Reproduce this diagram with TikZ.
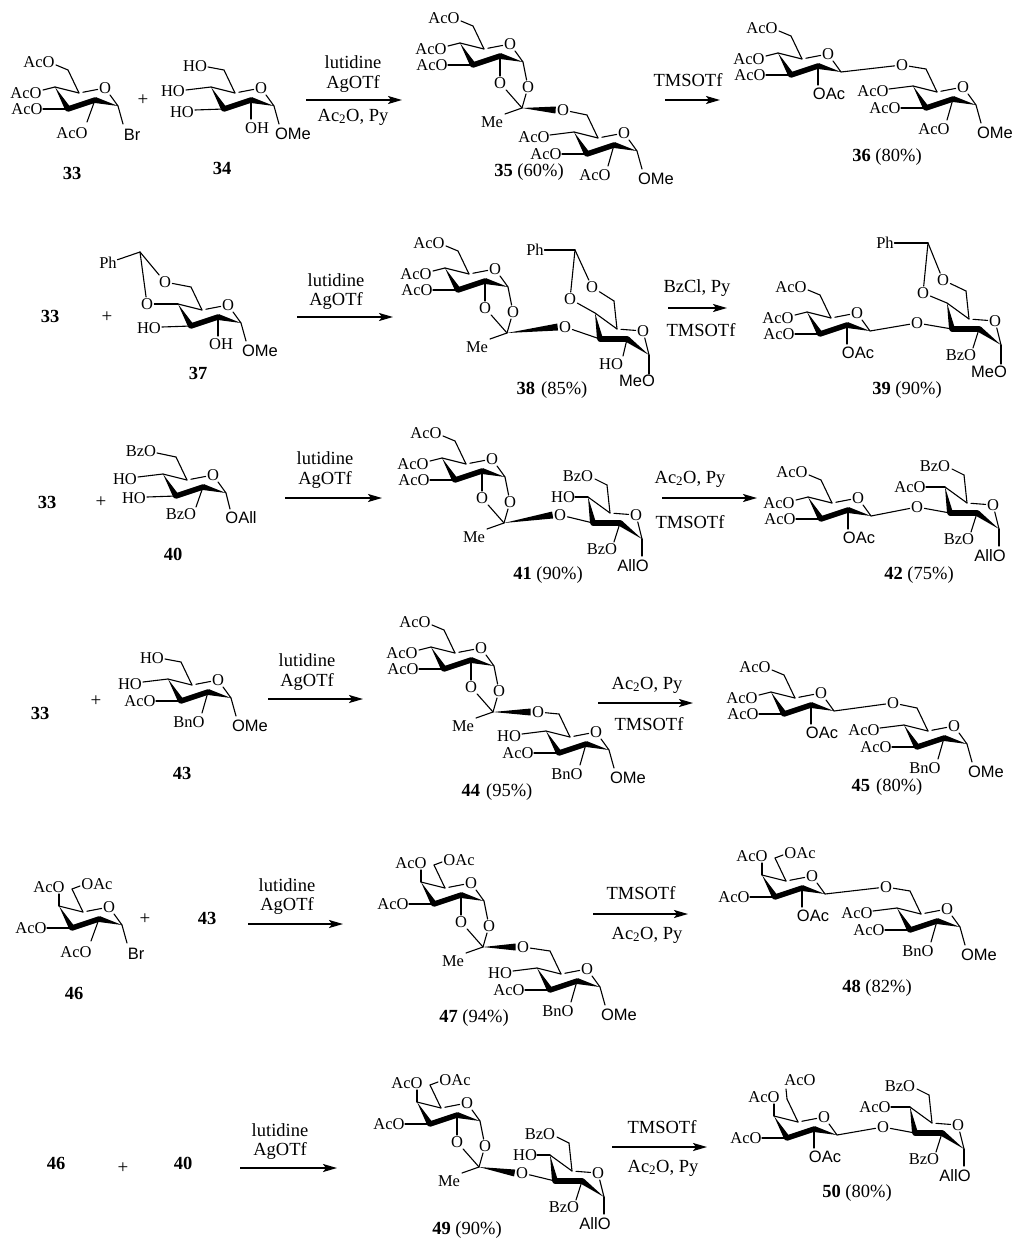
\documentclass[tikz,border=0pt]{standalone}
\usepackage{fontspec}
\setmainfont{Liberation Serif}
\newfontfamily\sansf{Liberation Sans}
\usetikzlibrary{calc,arrows.meta}
\newcounter{lbl}
\tikzset{
 bond/.style={line width=1.1pt, line cap=round},
 boldb/.style={line width=5.4pt, line cap=round},
 lab/.style={font=\fontsize{16.5}{17}\selectfont, inner sep=0.5pt},
 slab/.style={font=\sansf\fontsize{16.5}{17}\selectfont, inner sep=0.5pt},
 atom/.style={font=\fontsize{16.5}{17}\selectfont, inner sep=1.2pt},
 cpd/.style={font=\fontsize{18.5}{20}\selectfont, inner sep=0pt},
 rgt/.style={font=\fontsize{18.5}{20}\selectfont, inner sep=0pt},
 plus/.style={font=\fontsize{19}{20}\selectfont, inner sep=0pt},
 rxn/.style={line width=1.8pt, -{Stealth[length=14pt,width=8pt,inset=3pt]}},
}
\newcommand\wdg[3][3]{\fill ($(#3)!#1pt!90:(#2)$) -- (#2) -- ($(#3)!#1pt!-90:(#2)$) -- cycle;}
\newcommand\sbst[5]{\stepcounter{lbl}\draw[bond] (#1) -- ($(#1)+#2$); \node[#5] (L\arabic{lbl}) at ($(#1)+#3$) {#4};}
\newcommand\ringA[3]{%
 \begin{scope}[shift={(#2,#3)}]
 \coordinate (#1-4) at (0,0);
 \coordinate (#1-5) at (24,6);
 \node[atom] (#1-O) at (50,1) {O};
 \coordinate (#1-1) at (63,19);
 \coordinate (#1-2) at (40,13);
 \coordinate (#1-3) at (13,22);
 \coordinate (#1-6) at (13,-17);
 \end{scope}
 \draw[bond] (#1-4) -- (#1-5);
 \draw[bond, shorten <=4pt] (#1-5) -- (#1-O);
 \draw[bond] (#1-O) -- (#1-1);
 \draw[bond] (#1-5) -- (#1-6);
 \wdg{#1-4}{#1-3}
 \draw[boldb] (#1-3) -- (#1-2);
 \wdg{#1-1}{#1-2}
}
\newcommand\ringB[3]{%
 \begin{scope}[shift={(#2,#3)}]
 \coordinate (#1-4) at (0,0);
 \coordinate (#1-5) at (22,16);
 \node[atom] (#1-O) at (48,18) {O};
 \coordinate (#1-1) at (54,42);
 \coordinate (#1-2) at (32,26);
 \coordinate (#1-3) at (5,26);
 \coordinate (#1-6) at (19,-12);
 \end{scope}
 \draw[bond] (#1-4) -- (#1-5);
 \draw[bond, shorten <=4pt] (#1-5) -- (#1-O);
 \draw[bond] (#1-O) -- (#1-1);
 \draw[bond] (#1-5) -- (#1-6);
 \wdg{#1-4}{#1-3}
 \draw[boldb] (#1-3) -- (#1-2);
 \wdg{#1-1}{#1-2}
}
\newcommand\orthoe[3]{%
 \node[atom] (#2-o2) at ($(#1-2)+(0,27)$) {O};
 \node[atom] (#2-o1) at ($(#1-1)+(5,25)$) {O};
 \coordinate (#2-c) at ($(#1-2)+(22,52)$);
 \draw[bond] (#1-2) -- (#2-o2);
 \draw[bond] (#1-1) -- (#2-o1);
 \draw[bond] (#2-o2) -- (#2-c);
 \draw[bond] (#2-o1) -- (#2-c);
 \sbst{#2-c}{(-17,6)}{(-30,14)}{Me}{lab}
 \wdg[3.5]{#2-c}{#3.west}
}
\begin{document}
\begin{tikzpicture}[x=1pt,y=-1pt]
\useasboundingbox (0,0) rectangle (1017,1239);
% ===== Row 1 =====
\ringA{a}{55}{87}
\sbst{a-6}{(-12,-5)}{(-29,-8)}{AcO}{lab}
\sbst{a-4}{(-12,3)}{(-29,6)}{AcO}{lab}
\sbst{a-3}{(-25,0)}{(-41,0)}{AcO}{lab}
\sbst{a-2}{(-8,22)}{(-23,33)}{AcO}{lab}
\sbst{a-1}{(5,18)}{(14,29)}{Br}{slab}
\node[cpd] (n33a) at (72,173) {\textbf{33}};
\node[plus] (p1) at (143,100) {+};
\ringA{b}{211}{87}
\sbst{b-6}{(-16,-3)}{(-29,-4)}{HO}{lab}
\sbst{b-4}{(-25,3)}{(-38,4)}{HO}{lab}
\sbst{b-3}{(-29,1)}{(-42,3)}{HO}{lab}
\sbst{b-2}{(0,19)}{(6,28)}{OH}{lab}
\sbst{b-1}{(5,18)}{(19,28)}{OMe}{slab}
\node[cpd] (n34) at (222,168) {\textbf{34}};
\coordinate (r1s) at (306,100); \coordinate (r1e) at (402,100);
\draw[rxn] (r1s) -- (r1e);
\node[rgt] (t1a) at (353,62) {lutidine};
\node[rgt] (t1b) at (353,84) {AgOTf};
\node[rgt] (t1c) at (353,117) {Ac\textsubscript{2}O, Py};
% 35
\ringA{c}{460}{43}
\sbst{c-6}{(-12,-5)}{(-29,-8)}{AcO}{lab}
\sbst{c-4}{(-12,3)}{(-29,6)}{AcO}{lab}
\sbst{c-3}{(-25,0)}{(-41,0)}{AcO}{lab}
\node[atom] (c-x) at (563,110) {O};
\orthoe{c}{oc}{c-x}
\ringA{d}{574}{132}
\draw[bond] (c-x) -- (d-6);
\sbst{d-4}{(-24,3)}{(-40,5)}{AcO}{lab}
\sbst{d-3}{(-25,0)}{(-41,0)}{AcO}{lab}
\sbst{d-2}{(-6,21)}{(-19,30)}{AcO}{lab}
\sbst{d-1}{(5,18)}{(19,28)}{OMe}{slab}
\node[cpd] (n35) at (529,172) {\textbf{35} (60\%)};
\coordinate (r2s) at (665,100); \coordinate (r2e) at (720,100);
\draw[rxn] (r2s) -- (r2e);
\node[rgt] (t2a) at (688,80) {TMSOTf};
% 36
\ringA{e}{778}{53}
\sbst{e-6}{(-12,-5)}{(-29,-8)}{AcO}{lab}
\sbst{e-4}{(-12,3)}{(-29,6)}{AcO}{lab}
\sbst{e-3}{(-25,0)}{(-41,0)}{AcO}{lab}
\sbst{e-2}{(0,19)}{(11,28)}{OAc}{slab}
\node[atom] (e-x) at (902,65) {O};
\draw[bond] (e-1) -- (e-x);
\ringA{f}{913}{86}
\draw[bond] (e-x) -- (f-6);
\sbst{f-4}{(-24,3)}{(-40,5)}{AcO}{lab}
\sbst{f-3}{(-25,0)}{(-41,0)}{AcO}{lab}
\sbst{f-2}{(-6,21)}{(-19,30)}{AcO}{lab}
\sbst{f-1}{(5,18)}{(19,28)}{OMe}{slab}
\node[cpd] (n36) at (887,157) {\textbf{36} (80\%)};
% ===== Row 2 =====
\node[cpd] (n33b) at (50,316) {\textbf{33}};
\node[plus] (p2) at (107,317) {+};
\ringA{g}{178}{304}
\node[atom] (g-o4) at (147,304) {O};
\node[atom] (g-o6) at (165,282) {O};
\coordinate (g-ac) at (140,252);
\node[lab] (g-ph) at (108,263) {Ph};
\draw[bond] (g-4) -- (g-o4);
\draw[bond] (g-o4) -- (g-ac);
\draw[bond] (g-ac) -- (g-o6);
\draw[bond] (g-o6) -- (g-6);
\draw[bond] (g-ac) -- (g-ph);
\sbst{g-3}{(-29,1)}{(-42,2)}{HO}{lab}
\sbst{g-2}{(0,19)}{(3,27)}{OH}{lab}
\sbst{g-1}{(5,18)}{(19,28)}{OMe}{slab}
\node[cpd] (n37) at (198,373) {\textbf{37}};
\coordinate (r3s) at (297,317); \coordinate (r3e) at (393,317);
\draw[rxn] (r3s) -- (r3e);
\node[rgt] (t3a) at (336,280) {lutidine};
\node[rgt] (t3b) at (336,301) {AgOTf};
% 38
\ringA{h}{445}{268}
\sbst{h-6}{(-12,-5)}{(-29,-8)}{AcO}{lab}
\sbst{h-4}{(-12,3)}{(-29,6)}{AcO}{lab}
\sbst{h-3}{(-25,0)}{(-41,0)}{AcO}{lab}
\node[atom] (h-x) at (565,327) {O};
\orthoe{h}{oh}{h-x}
\ringB{i}{595}{313}
\draw[bond] (h-x) -- (i-3);
\node[atom] (i-o4) at (570,299) {O};
\node[atom] (i-o6) at (592,287) {O};
\coordinate (i-ac) at (575,250);
\node[lab] (i-ph) at (535,250) {Ph};
\draw[bond] (i-4) -- (i-o4);
\draw[bond] (i-o4) -- (i-ac);
\draw[bond] (i-ac) -- (i-o6);
\draw[bond] (i-o6) -- (i-6);
\draw[bond] (i-ac) -- (i-ph);
\sbst{i-2}{(-4,17)}{(-16,25)}{HO}{lab}
\sbst{i-1}{(0,19)}{(-12,26)}{MeO}{slab}
\node[cpd] (n38) at (552,390) {\textbf{38}\hspace{6pt}(85\%)};
\coordinate (r4s) at (668,308); \coordinate (r4e) at (727,308);
\draw[rxn] (r4s) -- (r4e);
\node[rgt] (t4a) at (697,288) {BzCl, Py};
\node[rgt] (t4b) at (701,330) {TMSOTf};
% 39
\ringA{j}{807}{312}
\sbst{j-6}{(-12,-5)}{(-29,-8)}{AcO}{lab}
\sbst{j-4}{(-12,3)}{(-29,6)}{AcO}{lab}
\sbst{j-3}{(-25,0)}{(-41,0)}{AcO}{lab}
\sbst{j-2}{(0,19)}{(11,28)}{OAc}{slab}
\node[atom] (j-x) at (917,323) {O};
\draw[bond] (j-1) -- (j-x);
\ringB{k}{947}{303}
\draw[bond] (j-x) -- (k-3);
\node[atom] (k-o4) at (923,293) {O};
\node[atom] (k-o6) at (943,280) {O};
\coordinate (k-ac) at (928,243);
\node[lab] (k-ph) at (885,243) {Ph};
\draw[bond] (k-4) -- (k-o4);
\draw[bond] (k-o4) -- (k-ac);
\draw[bond] (k-ac) -- (k-o6);
\draw[bond] (k-o6) -- (k-6);
\draw[bond] (k-ac) -- (k-ph);
\sbst{k-2}{(-6,19)}{(-18,26)}{BzO}{lab}
\sbst{k-1}{(0,19)}{(-12,27)}{MeO}{slab}
\node[cpd] (n39) at (907,390) {\textbf{39} (90\%)};
% ===== Row 3 =====
\node[cpd] (n33c) at (47,502) {\textbf{33}};
\node[plus] (p3) at (101,502) {+};
\ringA{l}{163}{474}
\sbst{l-6}{(-19,-4)}{(-35,-6)}{BzO}{lab}
\sbst{l-4}{(-25,3)}{(-38,5)}{HO}{lab}
\sbst{l-3}{(-29,1)}{(-42,2)}{HO}{lab}
\sbst{l-2}{(-7,20)}{(-22,27)}{BzO}{lab}
\sbst{l-1}{(4,16)}{(15,25)}{OAll}{slab}
\node[cpd] (n40a) at (173,554) {\textbf{40}};
\coordinate (r5s) at (285,498); \coordinate (r5e) at (382,498);
\draw[rxn] (r5s) -- (r5e);
\node[rgt] (t5a) at (325,458) {lutidine};
\node[rgt] (t5b) at (325,480) {AgOTf};
% 41
\ringA{m}{442}{458}
\sbst{m-6}{(-12,-5)}{(-29,-8)}{AcO}{lab}
\sbst{m-4}{(-12,3)}{(-29,6)}{AcO}{lab}
\sbst{m-3}{(-25,0)}{(-41,0)}{AcO}{lab}
\node[atom] (m-x) at (560,515) {O};
\orthoe{m}{om}{m-x}
\ringB{n}{588}{497}
\draw[bond] (m-x) -- (n-3);
\sbst{n-6}{(-12,-6)}{(-29,-9)}{BzO}{lab}
\sbst{n-4}{(-13,0)}{(-25,0)}{HO}{lab}
\sbst{n-2}{(-6,19)}{(-18,26)}{BzO}{lab}
\sbst{n-1}{(0,17)}{(-9,27)}{AllO}{slab}
\node[cpd] (n41) at (548,575) {\textbf{41} (90\%)};
\coordinate (r6s) at (662,498); \coordinate (r6e) at (757,498);
\draw[rxn] (r6s) -- (r6e);
\node[rgt] (t6a) at (690,479) {Ac\textsubscript{2}O, Py};
\node[rgt] (t6b) at (690,522) {TMSOTf};
% 42
\ringA{o}{808}{497}
\sbst{o-6}{(-12,-5)}{(-29,-8)}{AcO}{lab}
\sbst{o-4}{(-12,3)}{(-29,6)}{AcO}{lab}
\sbst{o-3}{(-25,0)}{(-41,0)}{AcO}{lab}
\sbst{o-2}{(0,19)}{(11,28)}{OAc}{slab}
\node[atom] (o-x) at (917,507) {O};
\draw[bond] (o-1) -- (o-x);
\ringB{p}{945}{487}
\draw[bond] (o-x) -- (p-3);
\sbst{p-6}{(-12,-6)}{(-29,-9)}{BzO}{lab}
\sbst{p-4}{(-19,0)}{(-35,0)}{AcO}{lab}
\sbst{p-2}{(-6,19)}{(-18,26)}{BzO}{lab}
\sbst{p-1}{(0,17)}{(-9,27)}{AllO}{slab}
\node[cpd] (n42) at (919,575) {\textbf{42} (75\%)};
% ===== Row 4 =====
\node[cpd] (n33d) at (40,713) {\textbf{33}};
\node[plus] (p4) at (96,701) {+};
\ringA{q}{168}{679}
\sbst{q-6}{(-16,-3)}{(-29,-4)}{HO}{lab}
\sbst{q-4}{(-25,3)}{(-38,5)}{HO}{lab}
\sbst{q-3}{(-25,0)}{(-41,0)}{AcO}{lab}
\sbst{q-2}{(-6,21)}{(-19,30)}{BnO}{lab}
\sbst{q-1}{(5,18)}{(19,28)}{OMe}{slab}
\node[cpd] (n43a) at (182,773) {\textbf{43}};
\coordinate (r7s) at (268,699); \coordinate (r7e) at (363,699);
\draw[rxn] (r7s) -- (r7e);
\node[rgt] (t7a) at (307,660) {lutidine};
\node[rgt] (t7b) at (307,682) {AgOTf};
% 44
\ringA{r}{431}{647}
\sbst{r-6}{(-12,-5)}{(-29,-8)}{AcO}{lab}
\sbst{r-4}{(-12,3)}{(-29,6)}{AcO}{lab}
\sbst{r-3}{(-25,0)}{(-41,0)}{AcO}{lab}
\node[atom] (r-x) at (538,712) {O};
\orthoe{r}{or}{r-x}
\ringA{s}{546}{731}
\draw[bond] (r-x) -- (s-6);
\sbst{s-4}{(-24,3)}{(-37,5)}{HO}{lab}
\sbst{s-3}{(-25,0)}{(-41,0)}{AcO}{lab}
\sbst{s-2}{(-6,21)}{(-19,30)}{BnO}{lab}
\sbst{s-1}{(5,18)}{(19,28)}{OMe}{slab}
\node[cpd] (n44) at (497,792) {\textbf{44}\hspace{6pt}(95\%)};
\coordinate (r8s) at (598,703); \coordinate (r8e) at (693,703);
\draw[rxn] (r8s) -- (r8e);
\node[rgt] (t8a) at (647,685) {Ac\textsubscript{2}O, Py};
\node[rgt] (t8b) at (649,724) {TMSOTf};
% 45
\ringA{t}{771}{692}
\sbst{t-6}{(-12,-5)}{(-29,-8)}{AcO}{lab}
\sbst{t-4}{(-12,3)}{(-29,6)}{AcO}{lab}
\sbst{t-3}{(-25,0)}{(-41,0)}{AcO}{lab}
\sbst{t-2}{(0,19)}{(11,28)}{OAc}{slab}
\node[atom] (t-x) at (893,703) {O};
\draw[bond] (t-1) -- (t-x);
\ringA{u}{904}{725}
\draw[bond] (t-x) -- (u-6);
\sbst{u-4}{(-24,3)}{(-40,5)}{AcO}{lab}
\sbst{u-3}{(-25,0)}{(-41,0)}{AcO}{lab}
\sbst{u-2}{(-6,21)}{(-19,30)}{BnO}{lab}
\sbst{u-1}{(5,18)}{(19,28)}{OMe}{slab}
\node[cpd] (n45) at (887,787) {\textbf{45}\hspace{6pt}(80\%)};
% ===== Row 5 =====
\ringA{v}{59}{906}
\sbst{v-4}{(0,-12)}{(-10,-19)}{AcO}{lab}
\sbst{v-6}{(8,-3)}{(25,-5)}{OAc}{lab}
\sbst{v-3}{(-25,0)}{(-41,0)}{AcO}{lab}
\sbst{v-2}{(-8,22)}{(-23,33)}{AcO}{lab}
\sbst{v-1}{(5,18)}{(14,29)}{Br}{slab}
\node[cpd] (n46a) at (74,993) {\textbf{46}};
\node[plus] (p5) at (145,919) {+};
\node[cpd] (n43b) at (207,918) {\textbf{43}};
\coordinate (r9s) at (248,924); \coordinate (r9e) at (343,924);
\draw[rxn] (r9s) -- (r9e);
\node[rgt] (t9a) at (287,885) {lutidine};
\node[rgt] (t9b) at (287,906) {AgOTf};
% 47
\ringA{w}{421}{882}
\sbst{w-4}{(0,-12)}{(-10,-19)}{AcO}{lab}
\sbst{w-6}{(8,-3)}{(25,-5)}{OAc}{lab}
\sbst{w-3}{(-25,0)}{(-41,0)}{AcO}{lab}
\node[atom] (w-x) at (523,947) {O};
\orthoe{w}{ow}{w-x}
\ringA{x}{537}{968}
\draw[bond] (w-x) -- (x-6);
\sbst{x-4}{(-24,3)}{(-37,5)}{HO}{lab}
\sbst{x-3}{(-25,0)}{(-41,0)}{AcO}{lab}
\sbst{x-2}{(-6,21)}{(-19,30)}{BnO}{lab}
\sbst{x-1}{(5,18)}{(19,28)}{OMe}{slab}
\node[cpd] (n47) at (474,1018) {\textbf{47} (94\%)};
\coordinate (r10s) at (593,914); \coordinate (r10e) at (688,914);
\draw[rxn] (r10s) -- (r10e);
\node[rgt] (t10a) at (641,893) {TMSOTf};
\node[rgt] (t10b) at (647,935) {Ac\textsubscript{2}O, Py};
% 48
\ringA{y}{762}{875}
\sbst{y-4}{(0,-12)}{(-10,-19)}{AcO}{lab}
\sbst{y-6}{(8,-3)}{(25,-5)}{OAc}{lab}
\sbst{y-3}{(-25,0)}{(-41,0)}{AcO}{lab}
\sbst{y-2}{(0,19)}{(11,28)}{OAc}{slab}
\node[atom] (y-x) at (886,887) {O};
\draw[bond] (y-1) -- (y-x);
\ringA{z}{897}{908}
\draw[bond] (y-x) -- (z-6);
\sbst{z-4}{(-24,3)}{(-40,5)}{AcO}{lab}
\sbst{z-3}{(-25,0)}{(-41,0)}{AcO}{lab}
\sbst{z-2}{(-6,21)}{(-19,30)}{BnO}{lab}
\sbst{z-1}{(5,18)}{(19,28)}{OMe}{slab}
\node[cpd] (n48) at (877,988) {\textbf{48} (82\%)};
% ===== Row 6 =====
\node[cpd] (n46b) at (56,1163) {\textbf{46}};
\node[plus] (p6) at (123,1168) {+};
\node[cpd] (n40b) at (183,1163) {\textbf{40}};
\coordinate (r11s) at (240,1168); \coordinate (r11e) at (337,1168);
\draw[rxn] (r11s) -- (r11e);
\node[rgt] (t11a) at (280,1130) {lutidine};
\node[rgt] (t11b) at (280,1151) {AgOTf};
% 49
\ringA{aa}{417}{1102}
\sbst{aa-4}{(0,-12)}{(-10,-19)}{AcO}{lab}
\sbst{aa-6}{(8,-3)}{(25,-5)}{OAc}{lab}
\sbst{aa-3}{(-25,0)}{(-41,0)}{AcO}{lab}
\node[atom] (aa-x) at (522,1173) {O};
\orthoe{aa}{oa}{aa-x}
\ringB{ab}{550}{1155}
\draw[bond] (aa-x) -- (ab-3);
\sbst{ab-6}{(-12,-6)}{(-29,-9)}{BzO}{lab}
\sbst{ab-4}{(-13,0)}{(-25,0)}{HO}{lab}
\sbst{ab-2}{(-6,19)}{(-18,26)}{BzO}{lab}
\sbst{ab-1}{(0,17)}{(-9,27)}{AllO}{slab}
\node[cpd] (n49) at (467,1230) {\textbf{49} (90\%)};
\coordinate (r12s) at (612,1147); \coordinate (r12e) at (707,1147);
\draw[rxn] (r12s) -- (r12e);
\node[rgt] (t12a) at (662,1127) {TMSOTf};
\node[rgt] (t12b) at (663,1168) {Ac\textsubscript{2}O, Py};
% 50
\ringA{ac}{774}{1116}
\sbst{ac-4}{(0,-12)}{(-10,-19)}{AcO}{lab}
\sbst{ac-6}{(-1,-10)}{(13,-19)}{AcO}{lab}
\sbst{ac-3}{(-25,0)}{(-41,0)}{AcO}{lab}
\sbst{ac-2}{(0,19)}{(11,28)}{OAc}{slab}
\node[atom] (ac-x) at (883,1127) {O};
\draw[bond] (ac-1) -- (ac-x);
\ringB{ad}{910}{1107}
\draw[bond] (ac-x) -- (ad-3);
\sbst{ad-6}{(-12,-6)}{(-29,-9)}{BzO}{lab}
\sbst{ad-4}{(-19,0)}{(-35,0)}{AcO}{lab}
\sbst{ad-2}{(-6,19)}{(-18,26)}{BzO}{lab}
\sbst{ad-1}{(0,17)}{(-9,27)}{AllO}{slab}
\node[cpd] (n50) at (857,1193) {\textbf{50} (80\%)};
\end{tikzpicture}
\end{document}
